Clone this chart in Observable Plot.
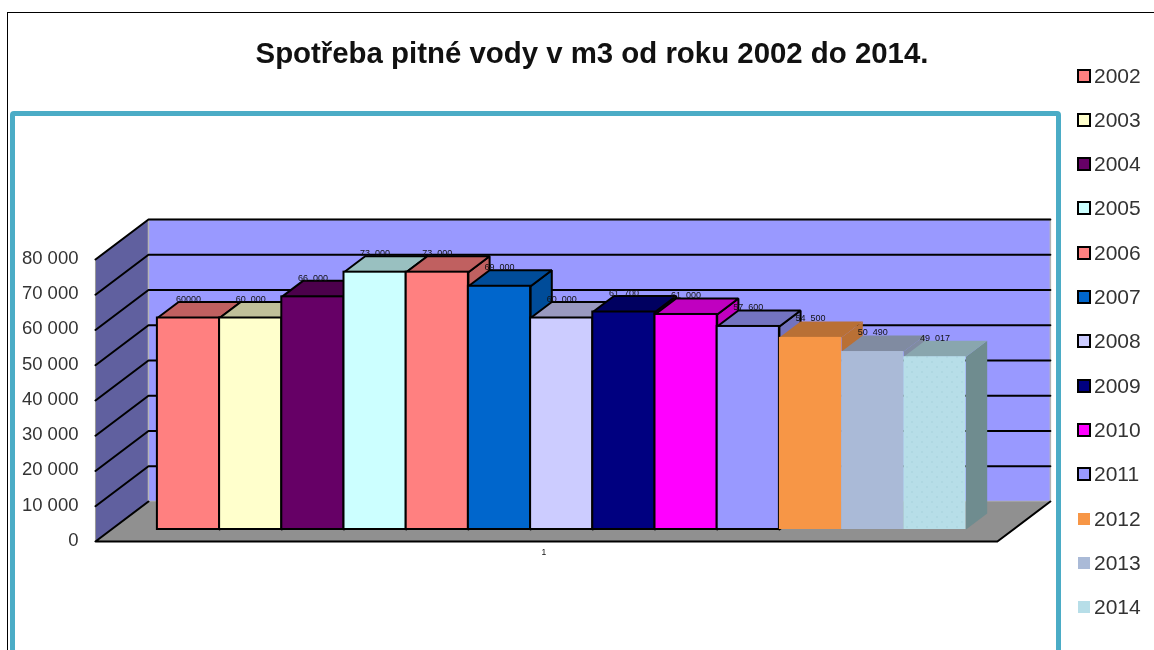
<!DOCTYPE html>
<html lang="cs">
<head>
<meta charset="utf-8">
<script src="https://cdn.jsdelivr.net/npm/d3@7"></script>
<script src="https://cdn.jsdelivr.net/npm/@observablehq/plot@0.6"></script>
<style>
html,body{margin:0;padding:0;background:#fff;width:1154px;height:650px;overflow:hidden;font-family:"Liberation Sans",Arial,sans-serif;}
#stage{position:relative;width:1154px;height:650px;overflow:hidden;filter:blur(0.35px);}
#stage svg{display:block;position:absolute;left:0;top:0;}
#frame{position:absolute;left:7px;top:12px;width:1200px;height:700px;border:1.5px solid #000;box-sizing:border-box;}
#panel{position:absolute;left:10px;top:111px;width:1051px;height:650px;border:5px solid #4bacc6;border-radius:4px;box-sizing:border-box;}
#title{position:absolute;left:0;width:1184px;top:36px;text-align:center;font-weight:bold;font-size:29.4px;line-height:34px;color:#111;}
.lg{position:absolute;left:1077px;height:24px;display:flex;align-items:center;font-size:21px;color:#333;}
.lg i{display:block;width:14px;height:14px;box-sizing:border-box;margin-right:3px;}
</style>
</head>
<body>
<div id="stage">
<svg width="0" height="0" style="position:absolute"><defs>
<pattern id="dots" width="10" height="10" patternUnits="userSpaceOnUse">
<rect width="10" height="10" fill="#b7dee8"/><circle cx="2" cy="2" r="0.8" fill="#a6d2dc"/><circle cx="7" cy="7" r="0.8" fill="#a6d2dc"/>
</pattern></defs></svg>
<div id="frame"></div>
<div id="panel"></div>
<div id="title">Spotřeba pitné vody v m3 od roku 2002 do 2014.</div>
</div>
<script>
const years = [2002,2003,2004,2005,2006,2007,2008,2009,2010,2011,2012,2013,2014];
const values = [60000,60000,66000,73000,73000,69000,60000,61700,61000,57600,54500,50490,49017];
const valueLabels = ["60000","60\u00a0\u00a0000","66\u00a0\u00a0000","73\u00a0\u00a0000","73\u00a0\u00a0000","69\u00a0\u00a0000","60\u00a0\u00a0000","61\u00a0\u00a0700","61\u00a0\u00a0000","57\u00a0\u00a0600","54\u00a0\u00a0500","50\u00a0\u00a0490","49\u00a0\u00a0017"];
const fronts = ["#ff8080","#ffffcc","#660066","#ccffff","#ff8080","#0066cc","#ccccff","#000080","#ff00ff","#9999ff","#f79646","#aabad7","#b7dee8"];
const tops = ["#c06060","#c0c099","#4c004c","#99c0c0","#c06060","#004c99","#9999c0","#000060","#c000c0","#7373c0","#b97035","#808ba1","#89a6ae"];
const sides = ["#c06060","#c0c099","#4c004c","#99c0c0","#c06060","#004c99","#9999c0","#000060","#c000c0","#7373c0","#b97035","#808ba1","#6f8c8f"];
const outlined = [1,1,1,1,1,1,1,1,1,1,0,0,0];
const yTicks = [0,10000,20000,30000,40000,50000,60000,70000,80000];

// Oblique depth: depth 1 moves a point this far in data units.
const depthX = 53 / 62.2, depthY = 11348;
const barFrontD = 0.3, barBackD = 0.7;
const xLeft = -0.74, xRight = 13.76;
const P = (x, v, d) => ({x: x + d * depthX, y: v + d * depthY});
const poly = (pts) => [...pts, pts[0]];
const face = (pts, fill, stroke, strokeWidth) =>
  Plot.line(poly(pts), {x: "x", y: "y", fill, stroke, strokeWidth, strokeLinejoin: "miter"});

const marks = [];
// side wall, back wall, floor
marks.push(face([P(xLeft,0,0),P(xLeft,80000,0),P(xLeft,80000,1),P(xLeft,0,1)], "#60609f", "#999", 1));
marks.push(face([P(xLeft,0,1),P(xLeft,80000,1),P(xRight,80000,1),P(xRight,0,1)], "#9999ff", "#b5b5b5", 1.5));
// gridlines
for (const t of yTicks.slice(1)) {
  marks.push(Plot.line([P(xLeft,t,0),P(xLeft,t,1),P(xRight,t,1)], {x:"x",y:"y",stroke:"#000",strokeWidth:2}));
}
marks.push(face([P(xLeft,0,0),P(xLeft,0,1),P(xRight,0,1),P(xRight,0,0)], "#909090", "none", 0));
marks.push(Plot.line([P(xLeft,0,1),P(xLeft,0,0),P(xRight,0,0),P(xRight,0,1)], {x:"x",y:"y",stroke:"#000",strokeWidth:2}));

// bars, left to right
years.forEach((yr, i) => {
  const v = values[i], st = outlined[i] ? "#000" : "none", sw = outlined[i] ? 2 : 0;
  marks.push(face([P(i+1,0,barFrontD),P(i+1,0,barBackD),P(i+1,v,barBackD),P(i+1,v,barFrontD)], sides[i], st, sw));
  marks.push(face([P(i,v,barFrontD),P(i,v,barBackD),P(i+1,v,barBackD),P(i+1,v,barFrontD)], tops[i], st, sw));
  const a = P(i,0,barFrontD), b = P(i+1,v,barFrontD);
  marks.push(Plot.rect([{yr}], {
    x1: () => a.x, x2: () => b.x, y1: () => a.y, y2: () => b.y,
    fill: yr === 2014 ? "url(#dots)" : fronts[i], stroke: st, strokeWidth: sw
  }));
});
// value labels
marks.push(Plot.text(years.map((yr,i)=>({...P(i+0.5,values[i],barFrontD), t:valueLabels[i]})), {
  x:"x", y:"y", text:"t", dy:-19, fontSize:9, fill:"#111"
}));
// category label
marks.push(Plot.text([{x:6.47,y:0,t:"1"}], {x:"x",y:"y",text:"t",dy:11,fontSize:8.5,fill:"#111"}));
// y axis
marks.push(Plot.axisY(yTicks, {
  anchor:"left", tickSize:0, tickPadding:17, label:null, fontSize:18.5, dy:-1.5, color:"#333",
  tickFormat:d=>d3.format(",")(d).replace(/,/g," ")
}));

const chart = Plot.plot({
  width:1154, height:650, marginLeft:95, marginRight:0, marginTop:0, marginBottom:0,
  style:{background:"transparent",fontFamily:"'Liberation Sans',Arial,sans-serif",overflow:"visible"},
  x:{domain:[0,13],range:[141,949.6],axis:null},
  y:{domain:[0,80000],range:[541,259],axis:null},
  marks
});
const stage = document.getElementById("stage");
stage.insertBefore(chart, document.getElementById("title"));

// legend
years.forEach((yr,i)=>{
  const row=document.createElement("div");
  row.className="lg";
  row.style.top=(63.5+44.33*i)+"px";
  const sw=document.createElement("i");
  sw.style.background=fronts[i];
  sw.style.border=outlined[i]?"2px solid #000":"1px solid #fff";
  row.appendChild(sw);
  row.appendChild(document.createTextNode(yr));
  stage.appendChild(row);
});
</script>
</body>
</html>
